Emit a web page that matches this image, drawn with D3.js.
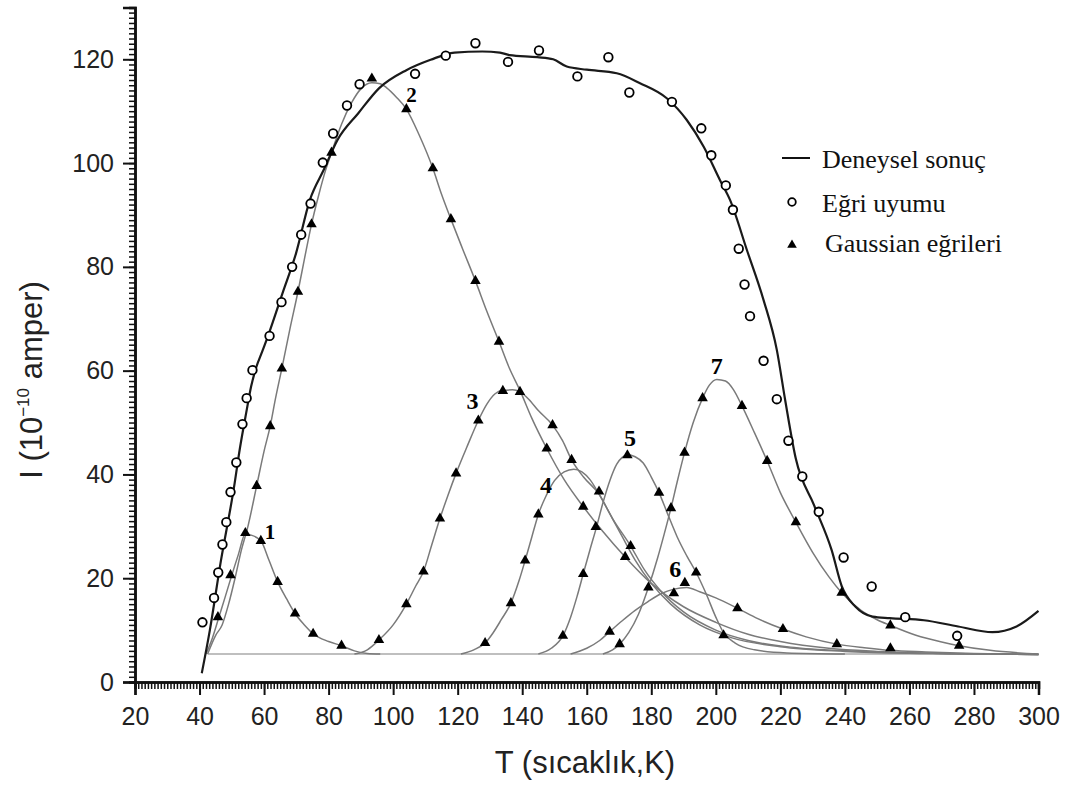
<!DOCTYPE html>
<html>
<head>
<meta charset="utf-8">
<script src="https://cdn.jsdelivr.net/npm/d3@7"></script>
<style>
  body { margin: 0; background: #fff; }
  svg { display: block; }
  .axis path, .axis line { stroke: #111; }
  .axis text { font-family: "Liberation Sans", Arial, sans-serif; font-size: 25px; fill: #222; }
</style>
</head>
<body>
<svg width="1067" height="789"></svg>
<script>
// deneysel sonuc (thick black line)
var expCurve = [[40.7,1.7],[43.2,10.0],[46.5,22.9],[50.7,37.6],[52.5,45],[54.5,52],[56,57],[57.5,60.5],
  [59.5,63.8],[61.4,67.0],[65.7,74.9],[69.9,82.6],[74.2,92.9],[78.5,98.7],[82.8,104.5],[89.2,109.6],
  [95.6,114.4],[104.1,117.9],[111.6,119.9],[119.0,121.3],[127.6,121.5],[133.1,121.3],[136.1,120.8],
  [144.7,120.4],[149.6,120.0],[153.8,118.6],[160,118.0],[169.3,117.3],[176.5,115.4],[184.8,112.5],
  [191.0,108.3],[196.2,103.2],[201.3,96.7],[204.4,92.9],[209.6,83.3],[214.8,73.6],[218.9,64.0],
  [221.5,54.3],[224.8,43.0],[230.5,34.0],[235.9,25.4],[239.0,18.5],[243.3,14.5],[248.6,12.6],
  [253.9,12.3],[264.5,11.9],[275.1,10.7],[285.7,9.6],[293.2,10.7],[300,13.7]];

// egri uyumu (open circles)
var fitPoints = [[40.9,11.5],[44.5,16.2],[45.8,21.1],[47.1,26.5],[48.3,30.8],[49.6,36.6],[51.4,42.3],
  [53.3,49.7],[54.6,54.7],[56.4,60.1],[61.7,66.7],[65.4,73.2],[68.7,80.0],[71.5,86.2],[74.4,92.2],
  [78.2,100.1],[81.4,105.7],[85.7,111.1],[89.6,115.2],[106.8,117.2],[116.3,120.7],[125.5,123.1],
  [135.6,119.5],[145.2,121.7],[157.1,116.7],[166.7,120.4],[173.2,113.6],[186.4,111.8],[195.5,106.7],
  [198.6,101.5],[203.1,95.7],[205.3,91.0],[207.1,83.5],[208.9,76.6],[210.6,70.5],[214.8,61.9],
  [218.9,54.5],[222.5,46.5],[226.8,39.6],[231.9,32.8],[239.6,24.0],[248.3,18.4],[258.7,12.5],[274.8,8.9]];

// gaussian egrileri 1..7 (gray lines)
var g1 = [[42,5.4],[44,8.5],[46,12.5],[48,16.5],[50,20.6],[52,24.5],[54.2,28.5],[56,28.3],[59,27.2],
  [61.5,23.5],[64.2,19.3],[67,16],[69.6,13.2],[72.5,11],[75.2,9.3],[80,7.8],[84,7.0],[88,6.0],[92,5.5],[96,5.4]];
var g2 = [[42.5,5.4],[45,9],[47,11],[49,15],[51,20],[53,25.5],[55,30],[57.7,37.8],[60,44.5],[61.9,49.3],
  [63.5,54.5],[65.5,60.4],[68,68],[70.5,75.2],[72.5,81.5],[74.7,88.2],[77,94],[79,98.5],[80.9,102],
  [84,107.5],[87,111.5],[90,114.3],[93.4,115.5],[96,115.3],[98,114.5],[101,112.7],[104.1,110.4],
  [108,105.5],[112.3,99],[115,94],[117.9,89.2],[121.5,83.5],[125.5,77.3],[129,71.5],[132.8,65.6],
  [136,60.5],[139.3,56.2],[143,50.8],[147.6,45.0],[153,39],[158.9,33.8],[165,29],[171.9,24.1],
  [180,19],[190,14.5],[200,11.5],[210,9.2],[220,7.8],[235,6.5],[250,5.9],[270,5.5],[300,5.3]];
var g3 = [[88,5.4],[92,6.2],[95.6,8.1],[100,11],[104.1,15],[107,18.5],[109.4,21.3],[112,26.5],[114.5,31.5],
  [117,36],[119.5,40.2],[123,45.5],[126.4,50.4],[129,53.5],[131.5,55.5],[134,56.2],[137,56.3],[139.3,55.9],
  [142,54.5],[145,52.3],[149.4,49.5],[152.5,46.5],[155.3,42.8],[159,39.5],[163.8,36.2],[168,31.5],
  [173.6,26.2],[178,21.5],[183,17.5],[190,13.5],[200,10],[210,8],[225,6.6],[245,5.9],[270,5.5],[300,5.3]];
var g4 = [[121,5.4],[125,6.2],[128.5,7.5],[131,9.5],[133.5,12],[136.5,15.2],[139,19.5],[140.9,23.4],
  [143,28],[145,32.3],[147.5,36],[150,38.8],[153,40.5],[156,41],[158.5,40.5],[161,39],[164,36],
  [167.5,32],[171,28],[175,23.5],[180,19],[186,15],[195,11],[205,8.5],[220,6.8],[240,5.9],[265,5.5],[300,5.3]];
var g5 = [[145,5.4],[149,6.5],[152.6,8.9],[155,12.5],[157,16.5],[158.9,20.8],[161,25.5],[163,29.8],
  [165,34.5],[167.2,38.9],[169.3,42],[171,43.3],[172.6,43.8],[175,43.4],[177.5,42.2],[180,39.5],
  [182.4,36.5],[185,32.5],[188,28],[191,24.3],[193.9,21.1],[197,17],[200,12.5],[202.4,9.5],[206,7.5],
  [212,6.2],[222,5.6],[240,5.4]];
var g6 = [[155,5.4],[160,6.5],[164,8],[167.1,9.7],[171,11.8],[175,13.8],[179,15.5],[183,17],[187,17.9],
  [191,18.2],[195,17.4],[200,16.2],[206.7,14.2],[213,12.2],[220.8,10.2],[228,8.7],[237.5,7.3],[246,6.6],
  [254.1,6.1],[265,5.8],[280,5.5],[300,5.3]];
var g7 = [[165,5.4],[168,6.2],[170.2,7.3],[173,9.5],[176,13],[179.1,18.2],[182,24],[184,28.5],[186.1,33.5],
  [188,38.5],[190.3,44.2],[193,50],[195.9,54.7],[198,57.2],[200.3,58.3],[203,58],[205.5,56.3],[208.1,53.2],
  [212,48],[215.9,42.6],[220,36.5],[224.8,30.8],[230,25],[235,20.3],[239,17.2],[245,13.8],[250,12],
  [254.1,10.9],[262,9],[270,7.7],[275.4,7.0],[285,6.1],[300,5.4]];
var baseLine = [[42.5,5.4],[300,5.4]];

// triangle markers on the gaussian curves
var tri1 = [[45.7,12.5],[49.6,20.6],[54.2,28.7],[59.0,27.2],[64.2,19.3],[69.6,13.2],[75.2,9.3],[84.0,7.0]];
var tri2 = [[57.7,37.8],[61.9,49.3],[65.5,60.4],[70.5,75.2],[74.7,88.2],[80.9,102.0],[93.4,116.3],
  [104.1,110.4],[112.3,99.0],[117.9,89.2],[125.5,77.3],[132.8,65.6],[139.3,55.9],[147.6,45.0],
  [158.9,33.8],[162.8,29.9],[171.9,24.1]];
var tri3 = [[95.6,8.1],[104.1,15.0],[109.4,21.3],[114.5,31.5],[119.5,40.2],[126.4,50.4],[134.0,56.1],
  [149.4,49.5],[155.3,42.8],[163.8,36.7],[173.6,26.2]];
var tri4 = [[128.5,7.5],[136.5,15.2],[140.9,23.4],[145.0,32.3]];
var tri5 = [[152.6,8.9],[158.9,20.8],[172.6,43.7],[182.4,36.5],[193.9,21.1],[202.4,9.0]];
var tri6 = [[167.1,9.7],[187.0,17.1],[190.4,19.1],[206.7,14.2],[220.8,10.2],[237.5,7.3],[254.1,6.5]];
var tri7 = [[170.2,7.3],[179.1,18.2],[186.1,33.5],[190.3,44.2],[195.9,54.7],[208.1,53.2],[215.9,42.6],
  [224.8,30.8],[239.0,17.2],[254.1,10.9],[275.4,7.0]];

var peakNames = ["1","2","3","4","5","6","7"];
var peakLabelPos = [[61.8,27.6],[105.7,111.8],[124.6,52.7],[147.4,36.4],[173.4,45.5],[187.4,20.3],[200.3,59.4]];

var xTicks = d3.range(20, 301, 20);
var yTicks = d3.range(0, 121, 20);
var legendNames = ["Deneysel sonuç", "Eğri uyumu", "Gaussian eğrileri"];

var svg = d3.select("svg");

var x = d3.scaleLinear().domain([20, 300]).range([135, 1038.5]);
var y = d3.scaleLinear().domain([0, 130]).range([682, 7.4]);

var line = d3.line()
    .x(function(d) { return x(d[0]); })
    .y(function(d) { return y(d[1]); })
    .curve(d3.curveMonotoneX);

// baseline + gaussians
svg.append("path").datum(baseLine)
    .attr("d", line).attr("fill", "none").attr("stroke", "#aaa").attr("stroke-width", 1.5);

svg.append("g").selectAll("path")
  .data([g1, g2, g3, g4, g5, g6, g7])
  .enter().append("path")
    .attr("d", line)
    .attr("fill", "none")
    .attr("stroke", "#7a7a7a")
    .attr("stroke-width", 1.5);

// experimental curve
svg.append("path").datum(expCurve)
    .attr("d", line).attr("fill", "none").attr("stroke", "#1a1a1a").attr("stroke-width", 2.2);

// triangles
var tri = d3.symbol().type(d3.symbolTriangle).size(48);
svg.append("g").selectAll("path")
  .data([].concat(tri1, tri2, tri3, tri4, tri5, tri6, tri7))
  .enter().append("path")
    .attr("d", tri)
    .attr("transform", function(d) { return "translate(" + x(d[0]) + "," + y(d[1]) + ")"; })
    .attr("fill", "#000");

// circles
svg.append("g").selectAll("circle")
  .data(fitPoints)
  .enter().append("circle")
    .attr("cx", function(d) { return x(d[0]); })
    .attr("cy", function(d) { return y(d[1]); })
    .attr("r", 4.3)
    .attr("fill", "#fff")
    .attr("stroke", "#000")
    .attr("stroke-width", 1.8);

// peak numbers
svg.append("g").selectAll("text")
  .data(peakLabelPos)
  .enter().append("text")
    .attr("x", function(d) { return x(d[0]); })
    .attr("y", function(d) { return y(d[1]); })
    .attr("text-anchor", "middle")
    .style("font-family", "'Liberation Serif', 'Times New Roman', serif")
    .style("font-weight", "bold")
    .style("font-size", function(d, i) { return i < 2 ? "21px" : "24px"; })
    .text(function(d, i) { return peakNames[i]; });

// axes: minor ticks each 1 unit in their own group, then the labelled major ticks
var xMinor = svg.append("g").attr("class", "axis").attr("transform", "translate(0," + y(0) + ")")
    .call(d3.axisBottom(x).tickValues(d3.range(20, 301, 1)).tickSize(7).tickFormat(""));
var gx = svg.append("g").attr("class", "axis").attr("transform", "translate(0," + y(0) + ")")
    .call(d3.axisBottom(x).tickValues(xTicks).tickSize(13).tickPadding(12));

var yMinor = svg.append("g").attr("class", "axis").attr("transform", "translate(" + x(20) + ",0)")
    .call(d3.axisLeft(y).tickValues(d3.range(0, 131, 1)).tickSize(6).tickFormat(""));
var gy = svg.append("g").attr("class", "axis").attr("transform", "translate(" + x(20) + ",0)")
    .call(d3.axisLeft(y).tickValues(yTicks).tickSize(12).tickPadding(9));

svg.selectAll(".axis path").attr("stroke-width", 2.5).attr("fill", "none");
svg.selectAll(".axis line").attr("stroke-width", 1.5);
gx.selectAll("line").attr("stroke-width", 2);
gy.selectAll("line").attr("stroke-width", 2);

// axis titles
svg.append("text")
    .attr("x", 585).attr("y", 773)
    .attr("text-anchor", "middle")
    .style("font-family", "'Liberation Sans', Arial, sans-serif")
    .style("font-size", "31px").style("fill", "#222")
    .text("T (sıcaklık,K)");

var yt = svg.append("text")
    .attr("transform", "translate(42,380) rotate(-90)")
    .attr("text-anchor", "middle")
    .style("font-family", "'Liberation Sans', Arial, sans-serif")
    .style("font-size", "31px").style("fill", "#222");
yt.append("tspan").text("I (10");
yt.append("tspan").attr("dy", -13).style("font-size", "17px").text("−10");
yt.append("tspan").attr("dy", 13).text(" amper)");

// legend
var lg = svg.append("g").style("font-family", "'Liberation Serif', 'Times New Roman', serif")
    .style("font-size", "26px");
lg.append("line").attr("x1", 782).attr("x2", 810).attr("y1", 158).attr("y2", 158)
    .attr("stroke", "#111").attr("stroke-width", 2);
lg.append("circle").attr("cx", 792).attr("cy", 202).attr("r", 3.8)
    .attr("fill", "#fff").attr("stroke", "#000").attr("stroke-width", 1.8);
lg.append("path").attr("d", d3.symbol().type(d3.symbolTriangle).size(40))
    .attr("transform", "translate(792,245)").attr("fill", "#000");
lg.selectAll("text").data(legendNames).enter().append("text")
    .attr("x", function(d, i) { return i == 2 ? 825 : 822; })
    .attr("y", function(d, i) { return [168, 211.5, 252][i]; })
    .attr("fill", "#111")
    .text(function(d) { return d; });
</script>
</body>
</html>
